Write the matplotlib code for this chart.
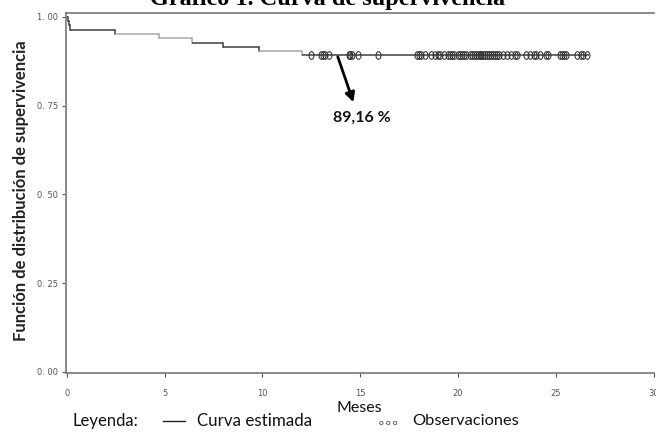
import matplotlib
matplotlib.use("Agg")
import matplotlib.pyplot as plt
from matplotlib.markers import MarkerStyle
from matplotlib.transforms import Affine2D

# ---- data ----
event_times = [0.0, 0.03, 0.10, 0.17, 2.45, 4.70, 6.40, 8.00, 9.80, 12.00]
survival = [1.0, 0.988, 0.976, 0.964, 0.952, 0.940, 0.928, 0.916, 0.904, 0.8916]
segment_shade = ["dark", "dark", "dark", "dark", "light", "light", "dark", "dark", "light", "dark"]
end_time = 26.7
censored_times = [12.5, 13.0, 13.1, 13.2, 13.4, 14.4, 14.5, 14.6, 14.9, 15.9,
                  17.9, 18.0, 18.1, 18.3,
                  18.6, 18.8, 19.0, 19.1, 19.3,
                  19.5, 19.6, 19.7, 19.8, 20.0, 20.1, 20.2, 20.3, 20.4, 20.6,
                  20.7, 20.8, 20.9, 21.0, 21.1, 21.2, 21.3, 21.4, 21.5, 21.6,
                  21.7, 21.8, 21.9, 22.0, 22.1, 22.3, 22.5, 22.7, 22.9, 23.0,
                  23.5, 23.7, 23.9, 24.0, 24.2, 24.5, 24.6,
                  25.2, 25.3, 25.4, 25.5,
                  26.1, 26.3, 26.4, 26.6]
final_label = "89,16 %"
x_ticks = [0, 5, 10, 15, 20, 25, 30]
y_ticks = [0.0, 0.25, 0.50, 0.75, 1.00]
y_ticklabels = ["0. 00", "0. 25", "0. 50", "0. 75", "1. 00"]

shade_colors = {"dark": "#404040", "light": "#a8a8a8"}
sans = ["Lato", "DejaVu Sans"]

fig = plt.figure(figsize=(6.56, 4.34), dpi=100)
ax = fig.add_axes([0.1006, 0.1396, 0.8971, 0.8311])

# step curve
times_ext = event_times + [end_time]
for i in range(len(survival)):
    c = shade_colors[segment_shade[i]]
    ax.plot([times_ext[i], times_ext[i + 1]], [survival[i], survival[i]],
            color=c, lw=1.1, solid_capstyle="butt")
    if i + 1 < len(survival):
        ax.plot([times_ext[i + 1], times_ext[i + 1]], [survival[i], survival[i + 1]],
                color=c, lw=1.1)

# censored observations
oval = MarkerStyle("o", fillstyle="none", transform=Affine2D().scale(0.65, 1.0))
ax.plot(censored_times, [survival[-1]] * len(censored_times), linestyle="none",
        marker=oval, markersize=5.5, markeredgecolor="#303030", markeredgewidth=0.75)

# annotation
ax.annotate("", xy=(14.65, 0.76), xytext=(13.85, 0.888),
            arrowprops=dict(arrowstyle="-|>,head_length=0.55,head_width=0.28",
                            color="black", lw=2.0, shrinkA=0, shrinkB=0))
ax.text(15.1, 0.715, final_label, ha="center", va="center", fontsize=11.5,
        fontweight="bold", family=sans, color="#111111")

ax.set_xlim(-0.05, 30.05)
ax.set_ylim(-0.004, 1.012)
ax.set_xticks(x_ticks)
ax.set_xticklabels([str(v) for v in x_ticks])
ax.set_yticks(y_ticks)
ax.set_yticklabels(y_ticklabels)
ax.tick_params(axis="both", labelsize=6, labelcolor="#555555", color="#555555",
               direction="out", length=3, width=0.8)
ax.tick_params(axis="x", pad=8)
ax.tick_params(axis="y", pad=3)
for s in ["left", "bottom", "top"]:
    ax.spines[s].set_color("#777777")
    ax.spines[s].set_linewidth(1.2)
ax.spines["right"].set_visible(False)

fig.text(0.032, 0.560, "Función de distribución de supervivencia", rotation=90,
         ha="center", va="center", fontsize=12, fontweight="bold", family=sans,
         color="#222222")

# title (partly cut at the top, as in the reference)
fig.text(0.50, 0.988, "Gráfico 1. Curva de supervivencia", ha="center", va="baseline",
         fontsize=17.5, fontweight="bold", family=["Liberation Serif", "DejaVu Serif"])

fig.text(0.548, 0.060, "Meses", ha="center", va="center", fontsize=11.5,
         family=sans, color="#111111")

leg_y = 0.030
fig.text(0.110, leg_y, "Leyenda:", ha="left", va="center", fontsize=12,
         family=sans, color="#111111")
fig.add_artist(plt.Line2D([0.248, 0.282], [leg_y, leg_y], transform=fig.transFigure,
                          color="#222222", lw=1.0))
fig.text(0.300, leg_y, "Curva estimada", ha="left", va="center", fontsize=12.2,
         family=sans, color="#111111")
fig.text(0.578, leg_y - 0.004, "o o o", ha="left", va="center", fontsize=6,
         family=sans, color="#222222")
fig.text(0.628, leg_y, "Observaciones", ha="left", va="center", fontsize=11.8,
         family=sans, color="#111111")

fig.savefig("out.png", dpi=100)
